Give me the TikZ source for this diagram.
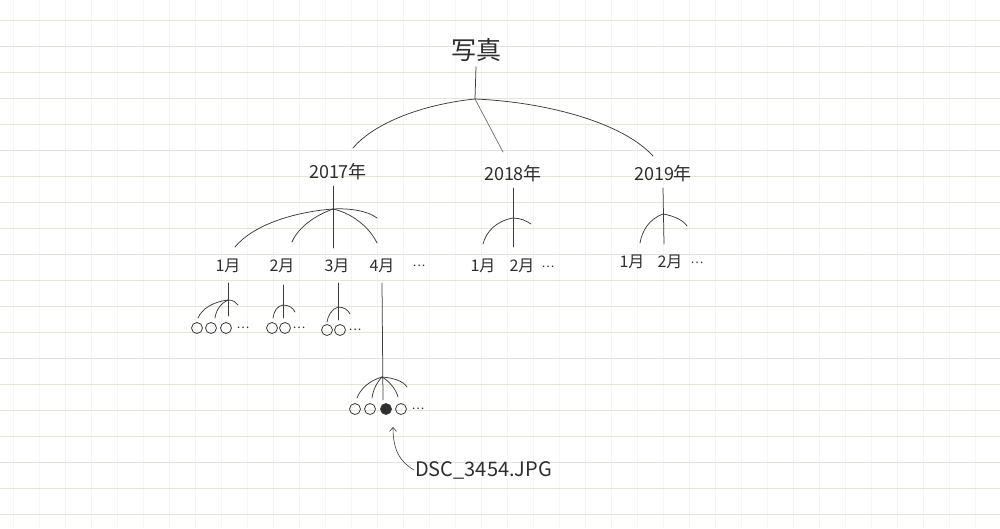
\documentclass[tikz,border=0pt]{standalone}
\usepackage{fontspec}
\newfontfamily\jp{Noto Sans CJK JP}
\usetikzlibrary{arrows.meta}
\definecolor{ink}{HTML}{2E2E2E}
\definecolor{pen}{HTML}{3C3C3C}
\definecolor{gridh}{RGB}{230,228,218}
\definecolor{gridv}{RGB}{246,245,240}
\tikzset{
  lbl/.style={font=\jp\fontsize{16}{16}\selectfont, text=ink, inner sep=1pt},
  yearlbl/.style={font=\jp\fontsize{18}{18}\selectfont, text=ink, inner sep=1pt},
  titlelbl/.style={font=\jp\fontsize{25}{25}\selectfont, text=ink, inner sep=1pt},
  filelbl/.style={font=\jp\fontsize{20}{20}\selectfont, text=ink, inner sep=1pt, anchor=west},
  br/.style={draw=pen, line width=0.75pt, line cap=round},
  pic/.style={circle, draw=pen, line width=0.8pt, minimum size=11pt, inner sep=0pt},
  picfill/.style={pic, fill=ink},
  more/.style={font=\jp\fontsize{12}{12}\selectfont, text=ink, inner sep=0pt}
}
\begin{document}
\begin{tikzpicture}[x=1pt,y=-1pt]
\useasboundingbox (0,0) rectangle (1000,528);
\fill[white] (0,0) rectangle (1000,528);
% grid paper
\foreach \k in {0,...,38} \draw[gridv, line width=0.4pt] (13+26*\k,0) -- (13+26*\k,528);
\foreach \k in {0,...,19} \draw[gridh, line width=0.6pt] (0,20.7+26*\k) -- (1000,20.7+26*\k);

% labels
\node[titlelbl] (photo) at (476,50) {写真};
\node[yearlbl] (y17) at (338,172) {2017年};
\node[yearlbl] (y18) at (513,174) {2018年};
\node[yearlbl] (y19) at (663,174) {2019年};

\node[lbl] (m17a) at (228,266) {1月};
\node[lbl] (m17b) at (282,266) {2月};
\node[lbl] (m17c) at (337,266) {3月};
\node[lbl] (m17d) at (382,266) {4月};
\node[more] (d17) at (419,266) {…};

\node[lbl] (m18a) at (483,266) {1月};
\node[lbl] (m18b) at (522,266) {2月};
\node[more] (d18) at (548,267) {…};

\node[lbl] (m19a) at (632,262) {1月};
\node[lbl] (m19b) at (670,262) {2月};
\node[more] (d19) at (697,263) {…};

% photo circles
\node[pic] (p1a) at (197,328) {};
\node[pic] (p1b) at (211,328) {};
\node[pic] (p1c) at (226,328) {};
\node[more] (p1d) at (243,328) {…};
\node[pic] (p2a) at (272,328) {};
\node[pic] (p2b) at (285,328) {};
\node[more] (p2d) at (299,328) {…};
\node[pic] (p3a) at (327,330) {};
\node[pic] (p3b) at (340,330) {};
\node[more] (p3d) at (355,330) {…};
\node[pic] (p4a) at (355,409) {};
\node[pic] (p4b) at (370,409) {};
\node[picfill] (p4c) at (386,409) {};
\node[pic] (p4d) at (401,409) {};
\node[more] (p4e) at (418,409) {…};

\node[filelbl] (dsc) at (414,470) {DSC\_3454.JPG};

% junction coordinates and free ends
\coordinate (J0) at (475,99);
\coordinate (e17) at (353,148);
\coordinate (e18) at (503,152);
\coordinate (e19) at (653,156);

\coordinate (t17) at (333,186);
\coordinate (J17) at (333,209);
\coordinate (b17) at (333,248);
\coordinate (a17a) at (235,247);
\coordinate (a17b) at (292,242);
\coordinate (a17d) at (377,243);
\coordinate (s17) at (377,218);

\coordinate (t18) at (513,188);
\coordinate (J18) at (513,218);
\coordinate (b18) at (513,247);
\coordinate (a18a) at (483,244);
\coordinate (s18) at (531,224);

\coordinate (t19) at (663,188);
\coordinate (J19) at (663,214);
\coordinate (b19) at (664,244);
\coordinate (a19a) at (640,243);
\coordinate (s19) at (687,226);

\coordinate (t1) at (228,283);
\coordinate (J1) at (228,300);
\coordinate (b1) at (228,316);
\coordinate (a1a) at (198,318);
\coordinate (a1b) at (215,318);
\coordinate (s1) at (238,305);

\coordinate (t2) at (283,285);
\coordinate (J2) at (283,305);
\coordinate (b2) at (283,318);
\coordinate (a2a) at (273,318);
\coordinate (s2) at (295,312);

\coordinate (t3) at (338,283);
\coordinate (J3) at (338,307);
\coordinate (b3) at (338,320);
\coordinate (a3a) at (327,322);
\coordinate (s3) at (350,314);

\coordinate (t4) at (382,283);
\coordinate (J4) at (382,377);
\coordinate (b4) at (383,400);
\coordinate (a4a) at (357,398);
\coordinate (a4b) at (372,398);
\coordinate (a4d) at (398,397);
\coordinate (s4) at (407,387);

\coordinate (tip) at (393,427);

% top level
\draw[br] (photo.south) ++(0,4) -- (J0);
\draw[br] (J0) .. controls (425,104) and (375,122) .. (e17);
\draw[br, draw=pen!70] (J0) -- (e18);
\draw[br] (J0) .. controls (545,102) and (622,122) .. (e19);

% 2017
\draw[br] (t17) -- (b17);
\draw[br] (J17) .. controls (292,212) and (252,226) .. (a17a);
\draw[br] (J17) .. controls (311,217) and (297,230) .. (a17b);
\draw[br] (J17) .. controls (355,214) and (371,230) .. (a17d);
\draw[br] (J17) .. controls (350,208) and (368,211) .. (s17);

% 2018
\draw[br] (t18) -- (b18);
\draw[br] (J18) .. controls (496,221) and (486,232) .. (a18a);
\draw[br] (J18) .. controls (520,218) and (527,221) .. (s18);

% 2019
\draw[br] (t19) -- (b19);
\draw[br] (J19) .. controls (649,219) and (642,231) .. (a19a);
\draw[br] (J19) .. controls (675,216) and (684,221) .. (s19);

% months 2017
\draw[br] (t1) -- (b1);
\draw[br] (J1) .. controls (212,302) and (202,309) .. (a1a);
\draw[br] (J1) .. controls (221,303) and (216,310) .. (a1b);
\draw[br] (J1) .. controls (233,300) and (236,302) .. (s1);

\draw[br] (t2) -- (b2);
\draw[br] (J2) .. controls (277,306) and (274,311) .. (a2a);
\draw[br] (J2) .. controls (289,305) and (293,308) .. (s2);

\draw[br] (t3) -- (b3);
\draw[br] (J3) .. controls (332,309) and (328,315) .. (a3a);
\draw[br] (J3) .. controls (344,307) and (348,310) .. (s3);

\draw[br] (t4) -- (b4);
\draw[br] (J4) .. controls (368,381) and (360,390) .. (a4a);
\draw[br] (J4) .. controls (377,382) and (373,390) .. (a4b);
\draw[br] (J4) .. controls (389,381) and (396,389) .. (a4d);
\draw[br] (J4) .. controls (394,378) and (403,381) .. (s4);

% pointer to the chosen photo
\draw[br, line width=0.6pt, -{Straight Barb[length=4pt,width=7pt]}] (dsc.west) .. controls (400,462) and (393,450) .. (tip);
\end{tikzpicture}
\end{document}
